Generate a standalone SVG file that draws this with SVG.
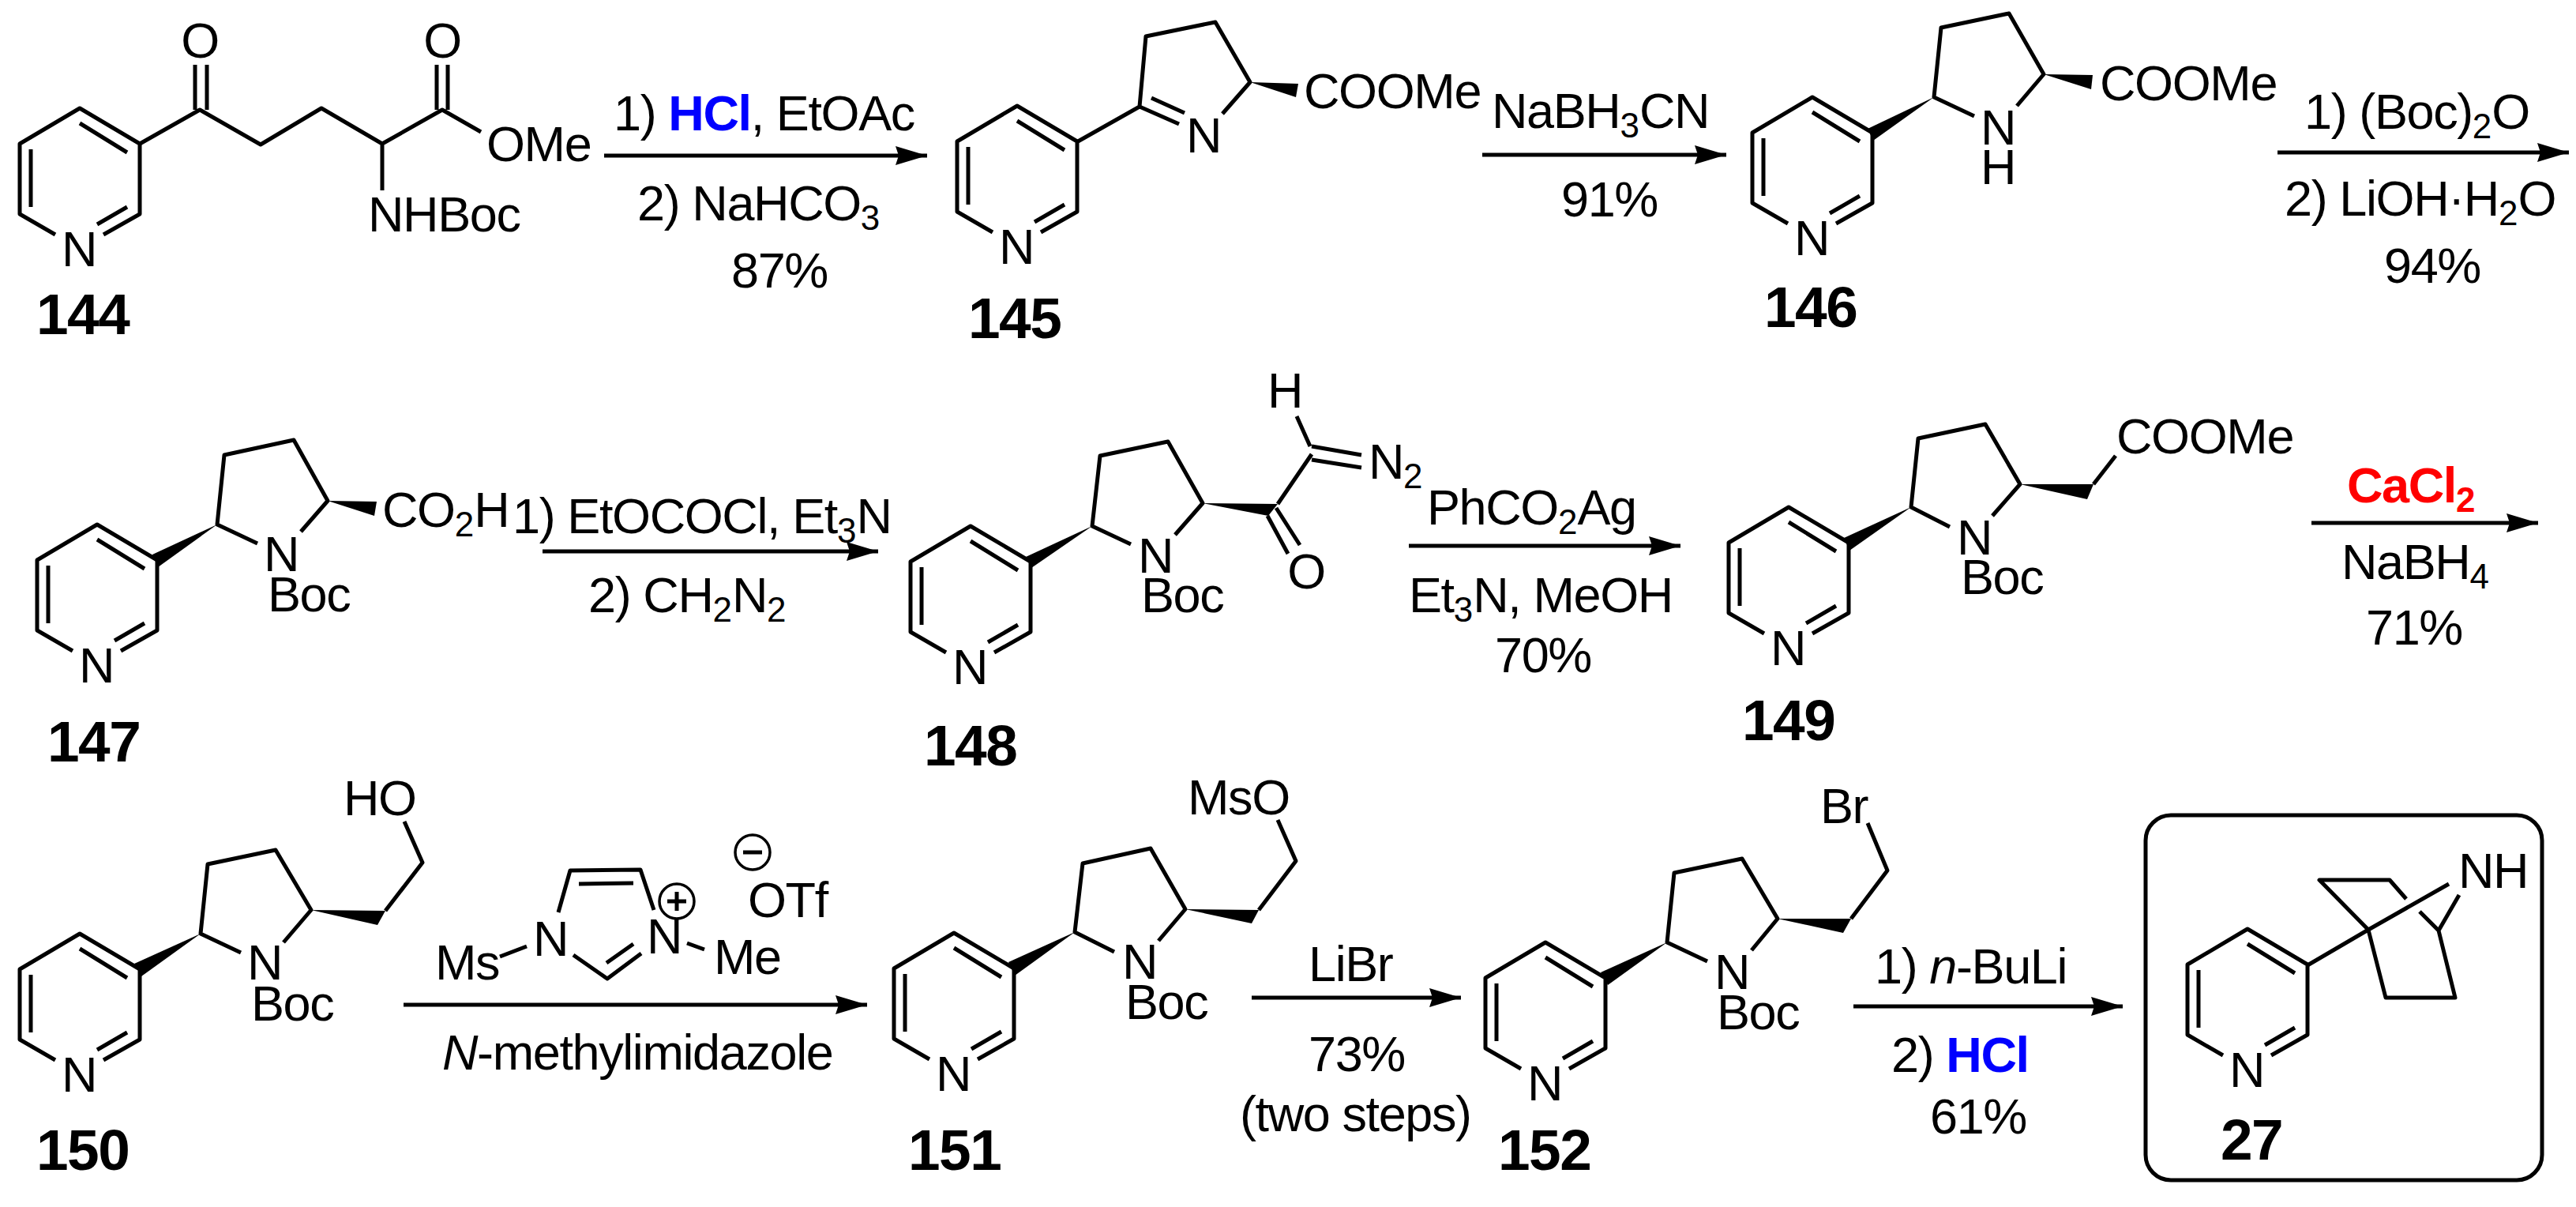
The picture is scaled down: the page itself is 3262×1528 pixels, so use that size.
<svg xmlns="http://www.w3.org/2000/svg" xmlns:xlink="http://www.w3.org/1999/xlink" width="3262" height="1528" viewBox="0 0 3262 1528">
<style>
text{font-family:"Liberation Sans",Arial,sans-serif;font-size:63px;letter-spacing:-1.4px;fill:#000}
.l{font-size:73px;font-weight:bold;letter-spacing:-1.5px}
.s{font-size:44px;letter-spacing:0}
.b{fill:none;stroke:#000;stroke-width:5;stroke-linejoin:round;stroke-linecap:butt}
.c{fill:none;stroke:#000;stroke-width:3.5}
.w{fill:#000;stroke:none}
.a{fill:none;stroke:#000;stroke-width:5;marker-end:url(#h)}
.blue{fill:#0000ff;font-weight:bold}
.red{fill:#ff0000;font-weight:bold}
</style>
<defs>
<marker id="h" markerUnits="userSpaceOnUse" markerWidth="42" markerHeight="26" refX="40" refY="13" orient="auto"><path d="M40 13L0 1L4 13L0 25Z" fill="#000"/></marker>
<g id="py">
<path class="b" d="M-31 160L-76 134V45L0 0L76 45V134L30 160"/>
<path class="b" d="M-62 52V125M0 19L60 56M60 125L22 147"/>
<text x="-1" y="200" text-anchor="middle">N</text>
</g>
</defs>
<rect width="3262" height="1528" fill="#fff"/>

<g id="connectors">
<path class="a" d="M765 197H1174"/>
<path class="a" d="M1877 196H2186"/>
<path class="a" d="M2884 193H3253"/>
<path class="a" d="M687 698H1112"/>
<path class="a" d="M1784 691H2128"/>
<path class="a" d="M2927 662H3214"/>
<path class="a" d="M511 1272H1098"/>
<path class="a" d="M1585 1263H1850"/>
<path class="a" d="M2347 1274H2688"/>
</g>

<g id="n144">
<use xlink:href="#py" href="#py" x="101" y="137"/>
<path class="b" d="M177 182L253 139L330 183L407 137L484 182L560 139L609 167M484 182V241M247 139V82M262 139V82M553 139V82M567 139V82"/>
<text x="253" y="73" text-anchor="middle">O</text>
<text x="560" y="73" text-anchor="middle">O</text>
<text x="616" y="204">OMe</text>
<text x="466" y="293">NHBoc</text>
<text class="l" x="46" y="423">144</text>
</g>

<g id="r1">
<text x="777" y="165">1) <tspan class="blue">HCl</tspan>, EtOAc</text>
<text x="807" y="279">2) NaHCO<tspan class="s" dy="12">3</tspan></text>
<text x="926" y="364">87%</text>
</g>

<g id="n145">
<use xlink:href="#py" href="#py" x="1288" y="134"/>
<path class="b" d="M1365 179L1443 135L1451 46L1539 28L1583 104L1548 144M1443 135L1493 157M1458 124L1500 143"/>
<path class="w" d="M1583 104L1644 106L1641 123Z"/>
<text x="1524" y="193" text-anchor="middle">N</text>
<text x="1651" y="137">COOMe</text>
<text class="l" x="1226" y="428">145</text>
</g>

<g id="r2">
<text x="1889" y="162">NaBH<tspan class="s" dy="12">3</tspan><tspan dy="-12">CN</tspan></text>
<text x="1977" y="274">91%</text>
</g>

<g id="n146">
<use xlink:href="#py" href="#py" x="2295" y="123"/>
<path class="w" d="M2449 123L2365 163L2372 178Z"/>
<path class="b" d="M2500 147L2449 123L2458 35L2544 17L2588 94L2554 134"/>
<path class="w" d="M2588 94L2650 95L2648 113Z"/>
<text x="2530" y="183" text-anchor="middle">N</text>
<text x="2530" y="233" text-anchor="middle">H</text>
<text x="2659" y="127">COOMe</text>
<text class="l" x="2234" y="414">146</text>
</g>

<g id="r3">
<text x="2918" y="163">1) (Boc)<tspan class="s" dy="12">2</tspan><tspan dy="-12">O</tspan></text>
<text x="2893" y="273">2) LiOH·H<tspan class="s" dy="12">2</tspan><tspan dy="-12">O</tspan></text>
<text x="3019" y="358">94%</text>
</g>

<g id="n147">
<use xlink:href="#py" href="#py" x="123" y="664"/>
<path class="w" d="M275 664L193 702L200 718Z"/>
<path class="b" d="M326 688L275 664L284 576L372 557L415 634L381 673"/>
<path class="w" d="M415 634L477 635L474 653Z"/>
<text x="356" y="723" text-anchor="middle">N</text>
<text x="339" y="774">Boc</text>
<text x="484" y="667">CO<tspan class="s" dy="12">2</tspan><tspan dy="-12">H</tspan></text>
<text class="l" x="60" y="964">147</text>
</g>

<g id="r4">
<text x="649" y="675">1) EtOCOCl, Et<tspan class="s" dy="12">3</tspan><tspan dy="-12">N</tspan></text>
<text x="745" y="775">2) CH<tspan class="s" dy="12">2</tspan><tspan dy="-12">N</tspan><tspan class="s" dy="12">2</tspan></text>
</g>

<g id="n148">
<use xlink:href="#py" href="#py" x="1229" y="666"/>
<path class="w" d="M1383 666L1299 705L1306 719Z"/>
<path class="b" d="M1432 689L1383 666L1393 577L1479 559L1523 637L1488 677"/>
<path class="w" d="M1523 637L1618 638L1606 653Z"/>
<path class="b" d="M1618 638L1661 575M1661 565L1724 576M1661 582L1724 592M1659 565L1642 527M1616 643L1646 690M1605 653L1631 701"/>
<text x="1463" y="725" text-anchor="middle">N</text>
<text x="1445" y="775">Boc</text>
<text x="1627" y="516" text-anchor="middle">H</text>
<text x="1733" y="606">N<tspan class="s" dy="12">2</tspan></text>
<text x="1654" y="745" text-anchor="middle">O</text>
<text class="l" x="1170" y="969">148</text>
</g>

<g id="r5">
<text x="1807" y="664">PhCO<tspan class="s" dy="12">2</tspan><tspan dy="-12">Ag</tspan></text>
<text x="1784" y="775">Et<tspan class="s" dy="12">3</tspan><tspan dy="-12">N, MeOH</tspan></text>
<text x="1893" y="851">70%</text>
</g>

<g id="n149">
<use xlink:href="#py" href="#py" x="2265" y="642"/>
<path class="w" d="M2420 642L2335 681L2342 697Z"/>
<path class="b" d="M2469 667L2420 642L2429 555L2514 537L2558 613L2523 653"/>
<path class="w" d="M2558 613L2651 613L2643 632Z"/>
<path class="b" d="M2651 613L2679 577"/>
<text x="2500" y="702" text-anchor="middle">N</text>
<text x="2483" y="752">Boc</text>
<text x="2680" y="574">COOMe</text>
<text class="l" x="2206" y="937">149</text>
</g>

<g id="r6">
<text class="red" x="2972" y="636">CaCl<tspan class="s" dy="12">2</tspan></text>
<text x="2965" y="733">NaBH<tspan class="s" dy="12">4</tspan></text>
<text x="2996" y="816">71%</text>
</g>

<g id="n150">
<use xlink:href="#py" href="#py" x="101" y="1182"/>
<path class="w" d="M254 1182L170 1220L179 1236Z"/>
<path class="b" d="M305 1206L254 1182L263 1094L349 1076L394 1152L359 1193"/>
<path class="w" d="M394 1152L488 1153L478 1171Z"/>
<path class="b" d="M488 1153L535 1092L512 1040"/>
<text x="335" y="1240" text-anchor="middle">N</text>
<text x="318" y="1292">Boc</text>
<text x="435" y="1032">HO</text>
<text class="l" x="46" y="1481">150</text>
</g>

<g id="r7">
<path class="b" d="M633 1211L667 1198M707 1155L722 1102L811 1101L828 1152M733 1119L802 1118M726 1209L769 1239L812 1207M768 1219L802 1195M870 1194L892 1202"/>
<circle class="c" cx="857" cy="1141" r="22"/>
<path class="b" d="M845 1141H869M857 1129V1153"/>
<circle class="c" cx="953" cy="1079" r="22"/>
<path class="b" d="M941 1079H965"/>
<text x="697" y="1210" text-anchor="middle">N</text>
<text x="841" y="1207" text-anchor="middle">N</text>
<text x="551" y="1240">Ms</text>
<text x="904" y="1233">Me</text>
<text x="947" y="1161">OTf</text>
<text x="560" y="1354"><tspan font-style="italic">N</tspan>-methylimidazole</text>
</g>

<g id="n151">
<use xlink:href="#py" href="#py" x="1208" y="1181"/>
<path class="w" d="M1361 1180L1277 1218L1285 1235Z"/>
<path class="b" d="M1411 1205L1361 1180L1371 1093L1457 1074L1501 1151L1467 1191"/>
<path class="w" d="M1501 1151L1594 1152L1585 1169Z"/>
<path class="b" d="M1594 1152L1641 1090L1618 1038"/>
<text x="1443" y="1239" text-anchor="middle">N</text>
<text x="1425" y="1290">Boc</text>
<text x="1504" y="1031">MsO</text>
<text class="l" x="1150" y="1481">151</text>
</g>

<g id="r8">
<text x="1657" y="1242">LiBr</text>
<text x="1657" y="1356">73%</text>
<text x="1570" y="1432">(two steps)</text>
</g>

<g id="n152">
<use xlink:href="#py" href="#py" x="1957" y="1193"/>
<path class="w" d="M2111 1193L2027 1231L2036 1247Z"/>
<path class="b" d="M2162 1217L2111 1193L2120 1105L2206 1087L2251 1163L2218 1203"/>
<path class="w" d="M2251 1163L2344 1163L2334 1181Z"/>
<path class="b" d="M2344 1163L2390 1102L2365 1042"/>
<text x="2193" y="1252" text-anchor="middle">N</text>
<text x="2174" y="1303">Boc</text>
<text x="2305" y="1042">Br</text>
<text class="l" x="1897" y="1481">152</text>
</g>

<g id="r9">
<text x="2374" y="1245">1) <tspan font-style="italic">n</tspan>-BuLi</text>
<text x="2395" y="1357">2) <tspan class="blue">HCl</tspan></text>
<text x="2444" y="1435">61%</text>
</g>

<g id="n27">
<rect class="b" x="2717" y="1032" width="502" height="462" rx="32" ry="32"/>
<use xlink:href="#py" href="#py" x="2846" y="1176"/>
<path class="b" d="M2922 1222L2999 1177L3101 1119M2999 1177L2937 1114H3026L3047 1138M3064 1154L3088 1178L3114 1133M2999 1177L3021 1263H3109L3088 1178"/>
<text x="3113" y="1124">NH</text>
<text class="l" x="2812" y="1468">27</text>
</g>
</svg>
